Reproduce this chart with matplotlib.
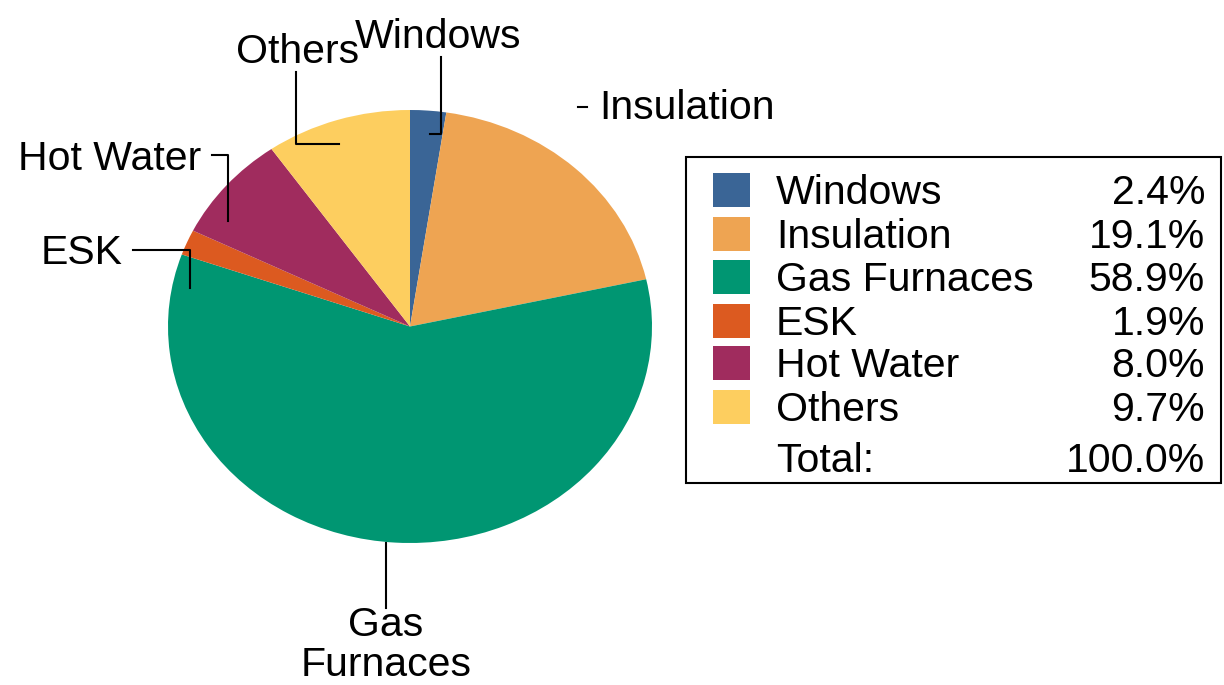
import matplotlib
matplotlib.use('Agg')
import matplotlib.pyplot as plt
from matplotlib.patches import Rectangle

plt.rcParams['font.family'] = ['Liberation Sans', 'DejaVu Sans']

# data
categories = ['Windows', 'Insulation', 'Gas Furnaces', 'ESK', 'Hot Water', 'Others']
shares = [2.4, 19.1, 58.9, 1.9, 8.0, 9.7]
colors = ['#3A6596', '#EEA452', '#009672', '#DC5A20', '#A02C5E', '#FDCE5F']

W, H = 1224, 685
fig = plt.figure(figsize=(W / 100, H / 100), dpi=100)

# pie axes (stretched a bit wider than tall, like the original)
px0, py0, px1, py1 = 168, 110, 652, 543
ax_pie = fig.add_axes([px0 / W, 1 - py1 / H, (px1 - px0) / W, (py1 - py0) / H])
ax_pie.pie(shares, colors=colors, startangle=90, counterclock=False,
           wedgeprops=dict(linewidth=0))
ax_pie.set_aspect('auto')
ax_pie.set_xlim(-1, 1)
ax_pie.set_ylim(-1, 1)
ax_pie.axis('off')

# overlay in pixel coords for labels, leader lines and legend box
ov = fig.add_axes([0, 0, 1, 1])
ov.set_xlim(0, W)
ov.set_ylim(H, 0)
ov.axis('off')

fs = 29.5
lw = 1.5

# leader lines
ov.plot([441, 441, 430], [57, 134, 134], color='black', lw=lw)         # Windows
ov.plot([578, 587], [107, 107], color='black', lw=lw)                   # Insulation
ov.plot([386, 386], [543, 608], color='black', lw=lw)                   # Gas Furnaces
ov.plot([133, 190, 190], [250, 250, 288], color='black', lw=lw)         # ESK
ov.plot([212, 228, 228], [155, 155, 221], color='black', lw=lw)         # Hot Water
ov.plot([296, 296, 339], [72, 144, 144], color='black', lw=lw)          # Others

# slice labels
ov.text(355, 48, categories[0], fontsize=fs, ha='left', va='baseline')
ov.text(599, 119, categories[1], fontsize=fs, ha='left', va='baseline')
ov.text(386, 636, 'Gas', fontsize=fs, ha='center', va='baseline')
ov.text(386, 676, 'Furnaces', fontsize=fs, ha='center', va='baseline')
ov.text(41, 264, categories[3], fontsize=fs, ha='left', va='baseline')
ov.text(18, 170, categories[4], fontsize=fs, ha='left', va='baseline')
ov.text(236, 63, categories[5], fontsize=fs, ha='left', va='baseline')

# legend box
ov.add_patch(Rectangle((686, 157), 535, 326, fill=False, edgecolor='black', lw=lw))
row_y = [190, 234, 277, 321, 363, 407]
for i in range(len(categories)):
    y = row_y[i]
    ov.add_patch(Rectangle((713, y - 17), 37, 34, facecolor=colors[i], edgecolor='none'))
    ov.text(776, y + 14, categories[i], fontsize=fs, ha='left', va='baseline')
    ov.text(1205, y + 14, '%.1f%%' % shares[i], fontsize=fs, ha='right', va='baseline')
ov.text(776, 472, 'Total:', fontsize=fs, ha='left', va='baseline')
ov.text(1205, 472, '%.1f%%' % sum(shares), fontsize=fs, ha='right', va='baseline')

fig.savefig('out.png', dpi=100)
